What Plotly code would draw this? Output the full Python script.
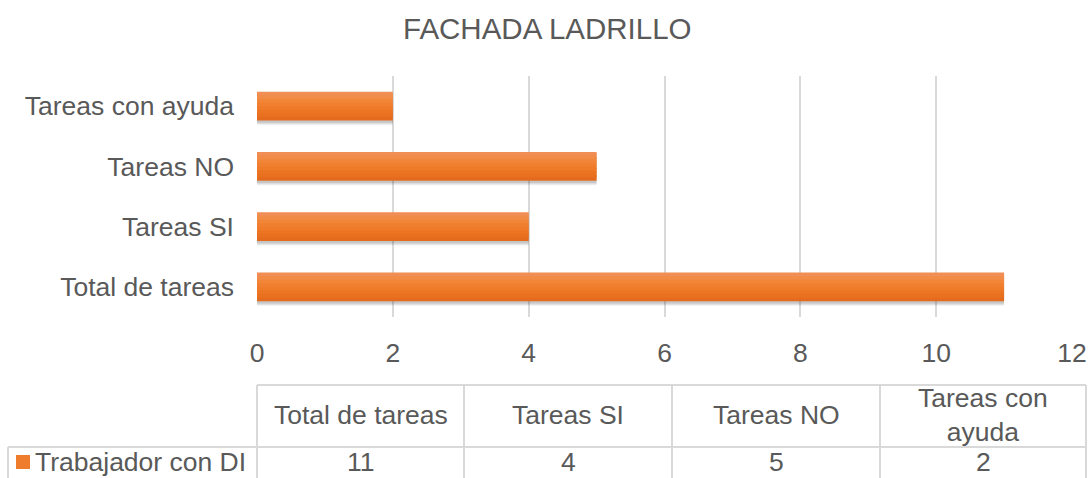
import plotly.graph_objects as go

# ---- data ----
categories = ["Total de tareas", "Tareas SI", "Tareas NO", "Tareas con ayuda"]
values = [11, 4, 5, 2]
series_name = "Trabajador con DI"
table_headers = ["Total de tareas", "Tareas SI", "Tareas NO", "Tareas con<br>ayuda"]
x_ticks = [0, 2, 4, 6, 8, 10, 12]
title_text = "FACHADA LADRILLO"

W, H = 1088, 478
TXT = "#595959"
GRID = "#D9D9D9"
ORANGE = "#EF7B2D"
# vertical gradient of the bars, bottom -> top
GRAD = ["#E46B1E", "#E8701F", "#EC7524", "#EF7A29", "#F0802F", "#F18538", "#F18B48", "#F08E55"]
FONT = "Liberation Sans, Arial, sans-serif"
FS = 26.5


def px(x):
    return x / W


def py(y):
    return 1 - y / H


fig = go.Figure()

bar_w = 0.48
# soft shadow layers under the bars
for off, a in [(0.075, 0.06), (0.055, 0.08), (0.035, 0.10)]:
    fig.add_trace(go.Bar(
        y=categories, x=values, orientation="h",
        width=bar_w, offset=-bar_w / 2 - off,
        marker=dict(color=f"rgba(0,0,0,{a})", line=dict(width=0)),
        hoverinfo="skip", showlegend=False,
    ))

n = len(GRAD)
band = bar_w / n
for k, c in enumerate(GRAD):
    w = band if k == n - 1 else band * 1.6
    fig.add_trace(go.Bar(
        y=categories, x=values, orientation="h", name=series_name,
        width=w, offset=-bar_w / 2 + k * band,
        marker=dict(color=c, line=dict(width=0)),
        showlegend=False, hoverinfo="skip" if k else None,
    ))

fig.update_layout(
    width=W, height=H,
    margin=dict(l=0, r=0, t=0, b=0, autoexpand=False),
    paper_bgcolor="white", plot_bgcolor="white",
    barmode="overlay",
    font=dict(family=FONT, size=FS, color=TXT),
    xaxis=dict(
        domain=[px(257), px(1072)],
        range=[0, 12], tickvals=x_ticks,
        showgrid=True, gridcolor=GRID, gridwidth=1.5,
        zeroline=False, showline=False, automargin=False,
        ticks="", ticklabelstandoff=17,
        tickfont=dict(size=FS, color=TXT),
        fixedrange=True,
    ),
    yaxis=dict(
        domain=[py(317), py(76)],
        type="category", categoryorder="array", categoryarray=categories,
        range=[-0.5, 3.5],
        showgrid=False, zeroline=False, showline=False, automargin=False,
        ticks="", ticklabelstandoff=22,
        tickfont=dict(size=FS, color=TXT),
        fixedrange=True,
    ),
    showlegend=False,
)

annotations = []
annotations.append(dict(
    text=title_text, x=px(547), y=py(28), xref="paper", yref="paper",
    xanchor="center", yanchor="middle", showarrow=False,
    font=dict(family=FONT, size=29.5, color=TXT),
))

# ---- data table ----
shapes = []
col_edges = [257, 464, 672, 880, 1086]
top_y, mid_y, bot_y = 385, 447, 478
line = dict(color=GRID, width=2)
shapes.append(dict(type="line", xref="paper", yref="paper",
                   x0=px(col_edges[0]), x1=px(col_edges[-1]), y0=py(top_y), y1=py(top_y), line=line))
shapes.append(dict(type="line", xref="paper", yref="paper",
                   x0=px(8), x1=px(col_edges[-1]), y0=py(mid_y), y1=py(mid_y), line=line))
for xe in col_edges:
    shapes.append(dict(type="line", xref="paper", yref="paper",
                       x0=px(xe), x1=px(xe), y0=py(top_y), y1=py(bot_y + 2), line=line))
shapes.append(dict(type="line", xref="paper", yref="paper",
                   x0=px(8), x1=px(8), y0=py(mid_y), y1=py(bot_y + 2), line=line))
# legend key
shapes.append(dict(type="rect", xref="paper", yref="paper",
                   x0=px(16), x1=px(30), y0=py(469), y1=py(455),
                   fillcolor=ORANGE, line=dict(width=0)))

for i, (hdr, val) in enumerate(zip(table_headers, values)):
    cx = (col_edges[i] + col_edges[i + 1]) / 2
    annotations.append(dict(
        text=hdr, x=px(cx), y=py(415), xref="paper", yref="paper",
        xanchor="center", yanchor="middle", showarrow=False,
        font=dict(family=FONT, size=FS, color=TXT),
    ))
    annotations.append(dict(
        text=str(val), x=px(cx), y=py(462), xref="paper", yref="paper",
        xanchor="center", yanchor="middle", showarrow=False,
        font=dict(family=FONT, size=FS, color=TXT),
    ))

annotations.append(dict(
    text=series_name, x=px(33), y=py(462), xref="paper", yref="paper",
    xanchor="left", yanchor="middle", showarrow=False,
    font=dict(family=FONT, size=FS, color=TXT),
))

fig.update_layout(annotations=annotations, shapes=shapes)
fig.write_html(
    "out.html",
    config={"displayModeBar": False},
    post_script="document.body.style.margin='0';document.body.style.overflow='hidden';",
)
